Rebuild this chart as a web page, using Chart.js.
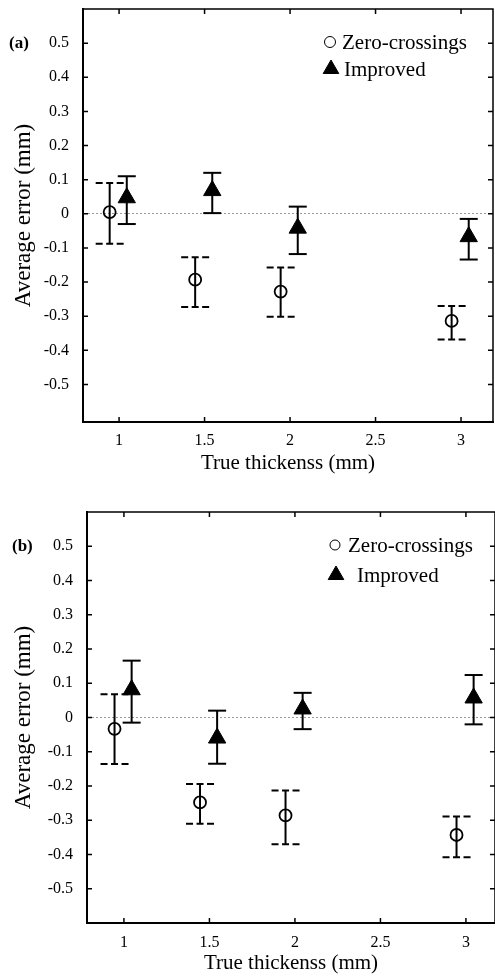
<!DOCTYPE html>
<html>
<head>
<meta charset="utf-8">
<script src="https://cdn.jsdelivr.net/npm/chart.js@4.4.1/dist/chart.umd.min.js"></script>
<style>
	html, body { margin: 0; padding: 0; background: #fff; }
	#wrap { position: relative; width: 495px; height: 979px; }
	canvas { position: absolute; left: 0; }
</style>
</head>
<body>
<div id="wrap">
	<canvas id="chart-a" width="495" height="485" style="top:0"></canvas>
	<canvas id="chart-b" width="495" height="494" style="top:485px"></canvas>
</div>
<script>
// thickness groups and tick values
const thickness = [1, 1.5, 2, 3];
const xTickValues = [1, 1.5, 2, 2.5, 3];
const yTickValues = [0.5, 0.4, 0.3, 0.2, 0.1, 0, -0.1, -0.2, -0.3, -0.4, -0.5];
const zeroOffset = -0.055;
const improvedOffset = 0.045;

// panel (a)
const zeroA = [0.005, -0.193, -0.228, -0.314];
const zeroALow = [-0.088, -0.273, -0.302, -0.368];
const zeroAHigh = [0.09, -0.127, -0.157, -0.27];
const improvedA = [0.047, 0.068, -0.042, -0.067];
const improvedALow = [-0.03, 0.002, -0.118, -0.134];
const improvedAHigh = [0.11, 0.12, 0.021, -0.015];

// panel (b)
const zeroB = [-0.033, -0.248, -0.286, -0.343];
const zeroBLow = [-0.136, -0.31, -0.37, -0.408];
const zeroBHigh = [0.068, -0.194, -0.213, -0.289];
const improvedB = [0.081, -0.06, 0.025, 0.057];
const improvedBLow = [-0.015, -0.135, -0.034, -0.02];
const improvedBHigh = [0.166, 0.02, 0.072, 0.124];

const serif = "'Liberation Serif', 'DejaVu Serif', serif";
Chart.defaults.font.family = serif;
Chart.defaults.color = '#000';

// vertical error bars with caps, under the markers
const errorBars = {
	id: 'errorBars',
	beforeDatasetsDraw(chart) {
		const ctx = chart.ctx;
		const y = chart.scales.y;

		chart.data.datasets.forEach((ds, di) => {
			const meta = chart.getDatasetMeta(di);

			meta.data.forEach((pt, i) => {
				const top = y.getPixelForValue(ds.high[i]);
				const bot = y.getPixelForValue(ds.low[i]);

				ctx.save();
				ctx.strokeStyle = '#000';
				ctx.lineWidth = 2;
				ctx.beginPath();
				ctx.moveTo(pt.x, top);
				ctx.lineTo(pt.x, bot);
				ctx.stroke();

				ctx.setLineDash(ds.capDash);
				[top, bot].forEach((yy) => {
					ctx.beginPath();
					ctx.moveTo(pt.x - ds.capWidth / 2, yy);
					ctx.lineTo(pt.x + ds.capWidth / 2, yy);
					ctx.stroke();
				});
				ctx.restore();
			});
		});
	}
};

// top/right frame and inward tick marks on all four sides
const frame = {
	id: 'frame',
	beforeDatasetsDraw(chart) {
		const {ctx, chartArea: a, scales: {x, y}} = chart;
		const len = 5;

		ctx.save();
		ctx.strokeStyle = '#000';
		ctx.lineWidth = 1.5;
		ctx.beginPath();
		ctx.moveTo(a.left, a.top);
		ctx.lineTo(a.right, a.top);
		ctx.lineTo(a.right, a.bottom);
		ctx.stroke();

		ctx.beginPath();
		x.ticks.forEach((t) => {
			const px = x.getPixelForValue(t.value);
			ctx.moveTo(px, a.bottom);
			ctx.lineTo(px, a.bottom - len);
			ctx.moveTo(px, a.top);
			ctx.lineTo(px, a.top + len);
		});
		y.ticks.forEach((t) => {
			const py = y.getPixelForValue(t.value);
			ctx.moveTo(a.left, py);
			ctx.lineTo(a.left + len, py);
			ctx.moveTo(a.right, py);
			ctx.lineTo(a.right - len, py);
		});
		ctx.stroke();
		ctx.restore();
	}
};

// panel letter and the marker legend inside the plot
const annotations = {
	id: 'annotations',
	afterDraw(chart, args, opts) {
		const ctx = chart.ctx;
		const y = chart.scales.y;

		ctx.save();
		ctx.fillStyle = '#000';
		ctx.textBaseline = 'middle';
		ctx.textAlign = 'left';
		ctx.font = 'bold 17px ' + serif;
		ctx.fillText(opts.panel, opts.panelX, y.getPixelForValue(0.5));

		ctx.font = '21px ' + serif;
		opts.legend.forEach((item, i) => {
			const ds = chart.data.datasets[i];
			ctx.save();
			ctx.strokeStyle = '#000';
			ctx.fillStyle = ds.pointBackgroundColor;
			Chart.helpers.drawPoint(ctx, {
				pointStyle: ds.pointStyle,
				radius: item.r,
				rotation: 0,
				borderWidth: ds.pointBorderWidth,
			}, item.x, item.y);
			ctx.restore();
			ctx.fillText(ds.label, item.textX, item.y + 1);
		});
		ctx.restore();
	}
};

function points(values, offset) {
	return thickness.map((t, i) => ({x: t + offset, y: values[i]}));
}

function makeChart(id, cfg) {
	return new Chart(document.getElementById(id), {
		type: 'scatter',
		data: {
			datasets: [{
				label: 'Zero-crossings',
				data: points(cfg.zero, zeroOffset),
				low: cfg.zeroLow,
				high: cfg.zeroHigh,
				capWidth: 28,
				capDash: [7, 3.5],
				pointStyle: 'circle',
				pointRadius: 6,
				pointBorderWidth: 1.8,
				pointBorderColor: '#000',
				pointBackgroundColor: 'rgba(0,0,0,0)',
			}, {
				label: 'Improved',
				data: points(cfg.improved, improvedOffset),
				low: cfg.improvedLow,
				high: cfg.improvedHigh,
				capWidth: 18,
				capDash: [],
				pointStyle: 'triangle',
				pointRadius: 10,
				pointBorderWidth: 1,
				pointBorderColor: '#000',
				pointBackgroundColor: '#000',
			}]
		},
		options: {
			responsive: false,
			devicePixelRatio: 1,
			animation: false,
			events: [],
			layout: {padding: cfg.padding, autoPadding: false},
			plugins: {
				legend: {display: false},
				tooltip: {enabled: false},
				annotations: cfg.annotations,
			},
			scales: {
				x: {
					type: 'linear',
					min: cfg.xMin,
					max: cfg.xMax,
					afterBuildTicks: (s) => { s.ticks = xTickValues.map((v) => ({value: v})); },
					afterFit: (s) => {
						s.height = cfg.xHeight;
						s.paddingLeft = 0;
						s.paddingRight = 0;
					},
					grid: {display: false, drawTicks: false},
					border: {color: '#000', width: 2},
					ticks: {
						autoSkip: false,
						maxRotation: 0,
						padding: cfg.xTickPad,
						font: {size: 16},
						callback: (v) => String(v),
					},
					title: {
						display: true,
						text: 'True thickenss (mm)',
						font: {size: 21},
						padding: {top: 0, bottom: cfg.xTitlePad},
					},
				},
				y: {
					min: cfg.yMin,
					max: cfg.yMax,
					afterBuildTicks: (s) => { s.ticks = yTickValues.map((v) => ({value: v})); },
					afterFit: (s) => {
						s.width = cfg.yWidth;
						s.paddingTop = 0;
						s.paddingBottom = 0;
					},
					grid: {
						drawTicks: false,
						lineWidth: 1,
						color: (c) => (c.tick && c.tick.value === 0 ? '#9a9a9a' : 'rgba(0,0,0,0)'),
					},
					border: {color: '#000', width: 2, dash: [2, 2]},
					ticks: {
						autoSkip: false,
						padding: 14,
						font: {size: 16},
						callback: (v) => (v === 0 ? '0' : v.toFixed(1)),
					},
					title: {
						display: true,
						text: 'Average error (mm)',
						font: {size: 23},
						padding: {top: 10, bottom: 0},
					},
				},
			},
		},
		plugins: [frame, errorBars, annotations],
	});
}

makeChart('chart-a', {
	zero: zeroA, zeroLow: zeroALow, zeroHigh: zeroAHigh,
	improved: improvedA, improvedLow: improvedALow, improvedHigh: improvedAHigh,
	xMin: 0.789, xMax: 3.187, yMin: -0.61, yMax: 0.6,
	padding: {top: 9, right: 2, left: 0, bottom: 0},
	xHeight: 63, yWidth: 83, xTickPad: 9, xTitlePad: 9,
	annotations: {
		panel: '(a)', panelX: 9,
		legend: [
			{x: 330, y: 42, r: 5.5, textX: 342},
			{x: 331, y: 69, r: 9, textX: 344},
		],
	},
});

makeChart('chart-b', {
	zero: zeroB, zeroLow: zeroBLow, zeroHigh: zeroBHigh,
	improved: improvedB, improvedLow: improvedBLow, improvedHigh: improvedBHigh,
	xMin: 0.784, xMax: 3.17, yMin: -0.6, yMax: 0.6,
	padding: {top: 27, right: 0, left: 0, bottom: 0},
	xHeight: 56, yWidth: 87, xTickPad: 10, xTitlePad: 3,
	annotations: {
		panel: '(b)', panelX: 12,
		legend: [
			{x: 335, y: 60, r: 5, textX: 348},
			{x: 336, y: 90, r: 9, textX: 357},
		],
	},
});
</script>
</body>
</html>
